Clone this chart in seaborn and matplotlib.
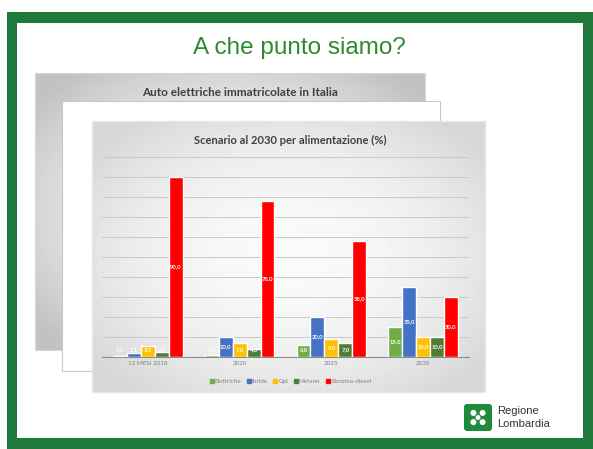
import numpy as np
import pandas as pd
import matplotlib
matplotlib.use("Agg")
import matplotlib.pyplot as plt
from matplotlib.patches import Rectangle, FancyBboxPatch, Ellipse
from matplotlib.lines import Line2D
import seaborn as sns

# ---- data ----
categories = ["12 MESI 2018", "2020", "2025", "2030"]
series = ["Elettriche", "Ibride", "Gpl", "Metano", "Benzina-diesel"]
elettriche = [0.3, 1.0, 6.0, 15.0]
ibride = [2.1, 10.0, 20.0, 35.0]
gpl = [5.3, 7.0, 9.0, 10.0]
metano = [2.4, 4.0, 7.0, 10.0]
benzina = [90.0, 78.0, 58.0, 30.0]
colors = ["#70ad47", "#4472c4", "#ffc000", "#4e7d33", "#ff0000"]

values = [elettriche, ibride, gpl, metano, benzina]
df = pd.DataFrame(
    [(c, s, v[i]) for s, v in zip(series, values) for i, c in enumerate(categories)],
    columns=["cat", "serie", "val"],
)

sns.set_theme(style="white")
plt.rcParams["font.family"] = ["Lato", "DejaVu Sans"]

W, H = 593, 449
fig = plt.figure(figsize=(W / 100, H / 100), dpi=100)
fig.patch.set_facecolor("white")

bg = fig.add_axes([0, 0, 1, 1])
bg.set_xlim(0, W)
bg.set_ylim(H, 0)
bg.axis("off")


def radial(x0, y0, x1, y1, c_center, c_edge, z):
    w, h = int(x1 - x0), int(y1 - y0)
    yy, xx = np.mgrid[0:h, 0:w]
    r2 = ((xx - w / 2) / (w / 2)) ** 2 + ((yy - h / 2) / (h / 2)) ** 2
    r2 = np.clip(r2 / 1.6, 0, 1)
    img = c_center - (c_center - c_edge) * r2
    bg.imshow(img, cmap="gray", vmin=0, vmax=1, extent=[x0, x1, y1, y0],
              origin="upper", aspect="auto", zorder=z, interpolation="bilinear")


# green frame
bg.add_patch(Rectangle((7, 12), 586, 437, facecolor="#1f7a3c", edgecolor="none", zorder=0))
bg.add_patch(Rectangle((17, 23), 566, 415, facecolor="white", edgecolor="none", zorder=1))

bg.text(299, 48, "A che punto siamo?", ha="center", va="center", fontsize=17.5,
        color="#2f8a2f", family=["Liberation Sans", "DejaVu Sans"], zorder=2)

# slide 1
radial(35, 73, 425, 350, 0.96, 0.76, 2)
bg.add_patch(Rectangle((35, 73), 390, 277, facecolor="none", edgecolor="#d8d8d8", lw=0.8, zorder=2.1))
bg.text(240, 93, "Auto elettriche immatricolate in Italia", ha="center", va="center",
        fontsize=8.5, fontweight="bold", color="#404040", zorder=2.2)

# slide 2
bg.add_patch(Rectangle((62, 101), 378, 270, facecolor="white", edgecolor="#c8c8c8", lw=0.8, zorder=3))

# slide 3 (chart)
radial(92, 121, 485, 392, 0.98, 0.84, 4)
bg.add_patch(Rectangle((92, 121), 393, 271, facecolor="none", edgecolor="#e8e8e8", lw=1.0, zorder=4.1))
bg.text(290, 140, "Scenario al 2030 per alimentazione (%)", ha="center", va="center",
        fontsize=8, fontweight="bold", color="#404040", zorder=4.2)

# logo
bg.add_patch(FancyBboxPatch((464, 404), 28, 27, boxstyle="round,pad=0,rounding_size=3",
                            facecolor="#1e8a3a", edgecolor="none", zorder=5))
cx, cy = 478, 417.5
for ang in (45, 135, 225, 315):
    a = np.deg2rad(ang)
    bg.add_patch(Ellipse((cx + 6.5 * np.cos(a), cy + 6.5 * np.sin(a)), 6, 6,
                         facecolor="white", edgecolor="none", zorder=6))
bg.add_patch(Ellipse((cx, cy), 5, 5, facecolor="white", edgecolor="none", zorder=6))
bg.text(497, 411, "Regione", ha="left", va="center", fontsize=8, color="#333333",
        family=["Liberation Sans", "DejaVu Sans"], zorder=6)
bg.text(497, 424, "Lombardia", ha="left", va="center", fontsize=8, color="#333333",
        family=["Liberation Sans", "DejaVu Sans"], zorder=6)

# chart axes
ax = fig.add_axes([102 / W, 1 - 357 / H, 367 / W, 200 / H])
ax.patch.set_alpha(0)
sns.barplot(data=df, x="cat", y="val", hue="serie", order=categories, hue_order=series,
            palette=colors, width=0.76, ax=ax, legend=False, saturation=1, zorder=3)
ax.set_ylim(0, 100)
ax.set_xlim(-0.5, 3.5)
ax.set_yticks(np.arange(10, 101, 10))
ax.yaxis.grid(True, color="#c9c9c9", lw=0.7, zorder=0)
ax.set_yticklabels([])
ax.tick_params(axis="y", length=0)
ax.tick_params(axis="x", length=0, pad=3, labelsize=4.5, labelcolor="#808080")
ax.set_xlabel("")
ax.set_ylabel("")
for s in ("top", "left", "right"):
    ax.spines[s].set_visible(False)
ax.spines["bottom"].set_color("#8c8c8c")
ax.spines["bottom"].set_linewidth(0.8)

for cont, vals in zip(ax.containers, values):
    for bar, v in zip(cont, vals):
        x = bar.get_x() + bar.get_width() / 2
        y = max(v / 2, 3.5)
        ax.text(x, y, f"{v:.1f}".replace(".", ","), ha="center", va="center",
                fontsize=4.2, fontweight="bold", color="white", zorder=5)

handles = [Line2D([], [], marker="s", ls="none", markersize=3, color=c) for c in colors]
fig.legend(handles, series, loc="center", bbox_to_anchor=(290 / W, 1 - 381 / H), ncol=5,
           frameon=False, fontsize=4.5, labelcolor="#808080", handletextpad=0.1,
           columnspacing=0.8, handlelength=0.8)

fig.savefig("out.png", dpi=100)
